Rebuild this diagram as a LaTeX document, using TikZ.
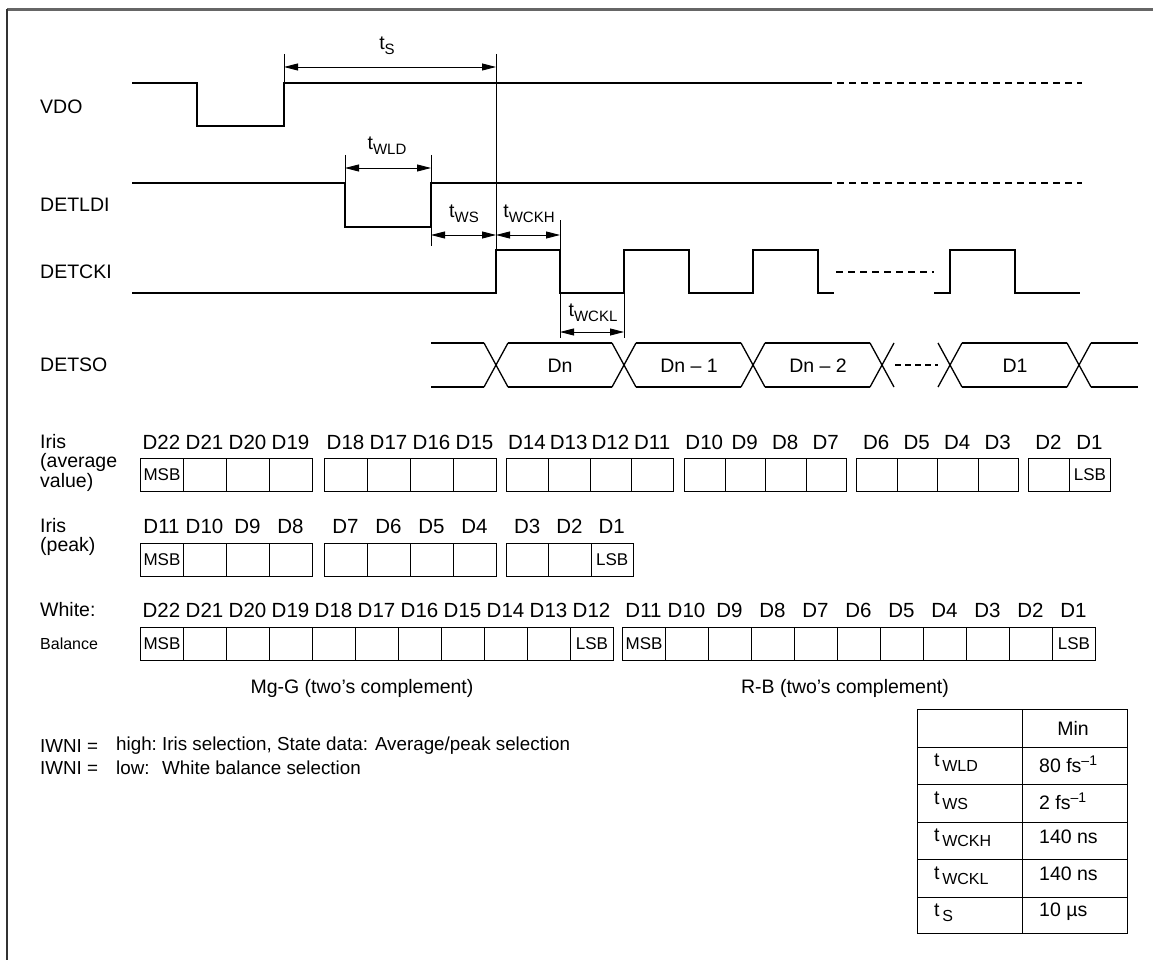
\documentclass[tikz,border=0pt]{standalone}
\usepackage{fontspec}
\setmainfont{Liberation Sans}
\usetikzlibrary{arrows.meta}
\newcommand\tsubx[2][15]{t\raisebox{-5pt}{\fontsize{#1}{#1}\selectfont #2}}
\begin{document}
\begin{tikzpicture}[x=1pt,y=-1pt,
  font=\fontsize{19.5}{22}\selectfont,
  sig/.style={line width=1.3pt, line join=miter, line cap=butt},
  dsig/.style={line width=1.3pt, dash pattern=on 7pt off 5pt},
  dimarr/.style={line width=0.9pt, {Triangle[length=14pt,width=7pt]}-{Triangle[length=14pt,width=7pt]}},
  ext/.style={line width=0.9pt},
  lbl/.style={anchor=west, inner sep=0pt},
  txt/.style={inner sep=0pt},
  dlab/.style={inner sep=0pt, anchor=base, font=\fontsize{20.5}{22}\selectfont},
  cell/.style={draw, line width=1pt, minimum height=33pt, inner sep=0pt, anchor=north west},
  small/.style={inner sep=0pt, font=\fontsize{17}{17}\selectfont},
  note/.style={anchor=west, inner sep=0pt, font=\fontsize{18.8}{21}\selectfont},
  tab/.style={line width=1pt}]
\useasboundingbox (0,0) rectangle (1153,960);
% frame
\draw[line width=3pt, color=black!60] (7,10) -- (1153,10);
\draw[line width=2pt, color=black!80] (7,9) -- (7,960);

% signal names
\node[lbl] (nVDO) at (40,107) {VDO};
\node[lbl] (nLDI) at (40,205) {DETLDI};
\node[lbl] (nCKI) at (40,272) {DETCKI};
\node[lbl] (nSO) at (40,365) {DETSO};

% VDO
\draw[sig] (132,83) -- (197,83) -- (197,126) -- (284,126) -- (284,83) -- (825,83);
\draw[dsig] (825,83) -- (1082,83);
% DETLDI
\draw[sig] (132,183) -- (345,183) -- (345,227) -- (431,227) -- (431,183) -- (825,183);
\draw[dsig] (825,183) -- (1082,183);
% DETCKI
\draw[sig] (132,293) -- (496,293) -- (496,250) -- (560,250) -- (560,293) -- (624,293) -- (624,250) -- (689,250) -- (689,293) -- (753,293) -- (753,250) -- (818,250) -- (818,293) -- (834,293);
\draw[line width=1.2pt, dash pattern=on 7pt off 5pt] (836,272) -- (934,272);
\draw[sig] (934,293) -- (950,293) -- (950,250) -- (1015,250) -- (1015,293) -- (1080,293);

% reference vertical line
\draw[ext] (496,54) -- (496,250);

% t_S
\draw[ext] (284,54) -- (284,83);
\coordinate (tsA) at (284,67);
\coordinate (tsB) at (496,67);
\draw[dimarr] (tsA) -- (tsB);
\node[txt] (ltS) at (387,46) {\tsubx{S}};
% t_WLD
\draw[ext] (345,155) -- (345,183);
\draw[ext] (431,155) -- (431,246);
\coordinate (wlA) at (345,168);
\coordinate (wlB) at (431,168);
\draw[dimarr] (wlA) -- (wlB);
\node[txt] (ltWLD) at (387,146) {\tsubx{WLD}};
% t_WS
\coordinate (wsA) at (431,235);
\coordinate (wsB) at (496,235);
\draw[dimarr] (wsA) -- (wsB);
\node[txt] (ltWS) at (464,214) {\tsubx{WS}};
% t_WCKH
\draw[ext] (560,220) -- (560,250);
\coordinate (whA) at (496,235);
\coordinate (whB) at (560,235);
\draw[dimarr] (whA) -- (whB);
\node[txt] (ltWCKH) at (529,214) {\tsubx{WCKH}};
% t_WCKL
\draw[ext] (560,293) -- (560,338);
\draw[ext] (624,293) -- (624,338);
\coordinate (wkA) at (560,332);
\coordinate (wkB) at (624,332);
\draw[dimarr] (wkA) -- (wkB);
\node[txt] (ltWCKL) at (593,313) {\tsubx{WCKL}};

% DETSO bus
\def\h{12}
\draw[sig] (431,343) -- (484,343);
\draw[sig] (431,387) -- (484,387);
\foreach \c in {496,624,753,882,950,1079}{
  \draw[sig] (\c-\h,343) -- (\c+\h,387);
  \draw[sig] (\c-\h,387) -- (\c+\h,343);
}
\foreach \a/\b in {496/624,624/753,753/882,950/1079}{
  \draw[sig] (\a+\h,343) -- (\b-\h,343);
  \draw[sig] (\a+\h,387) -- (\b-\h,387);
}
\draw[sig] (1091,343) -- (1138,343);
\draw[sig] (1091,387) -- (1138,387);
\draw[line width=1.2pt, dash pattern=on 6pt off 4pt] (895,365) -- (938,365);
\node[txt] (bDn) at (560,366) {Dn};
\node[txt] (bDn1) at (689,366) {Dn -- 1};
\node[txt] (bDn2) at (818,366) {Dn -- 2};
\node[txt] (bD1) at (1015,366) {D1};

% ---- bit rows ----
\node[lbl] (rIris) at (40,442) {Iris};
\node[lbl] (rAvg) at (40,462) {(average};
\node[lbl] (rVal) at (40,482) {value)};
\foreach \s/\n/\f/\w in {140/4/22/43,324/4/18/43,506/4/14/41.75,684/4/10/40.5,856/4/6/40.5,1028/2/2/41}{
  \foreach \i in {1,...,\n}{
    \pgfmathsetmacro\xx{\s+(\i-1)*\w}
    \pgfmathtruncatemacro\bb{\f-\i+1}
    \node[cell, minimum width=\w pt] (a\bb) at (\xx,458) {};
    \node[dlab] (al\bb) at (\xx+\w/2,449.5) {D\bb};
  }
}
\node[small] at (a22) {MSB};
\node[small] at (a1) {LSB};

\node[lbl] (rIris2) at (40,526) {Iris};
\node[lbl] (rPeak) at (40,546) {(peak)};
\foreach \s/\n/\f/\w in {140/4/11/43,324/4/7/43,506/3/3/42.3}{
  \foreach \i in {1,...,\n}{
    \pgfmathsetmacro\xx{\s+(\i-1)*\w}
    \pgfmathtruncatemacro\bb{\f-\i+1}
    \node[cell, minimum width=\w pt] (p\bb) at (\xx,543) {};
    \node[dlab] (pl\bb) at (\xx+\w/2,533.5) {D\bb};
  }
}
\node[small] at (p11) {MSB};
\node[small] at (p1) {LSB};

\node[lbl] (rWhite) at (40,610) {White:};
\node[lbl, font=\fontsize{16}{16}\selectfont] (rBal) at (40,644) {Balance};
\foreach \i in {1,...,11}{
  \pgfmathsetmacro\xx{140+(\i-1)*43}
  \pgfmathtruncatemacro\bb{23-\i}
  \node[cell, minimum width=43pt] (w\bb) at (\xx,627) {};
  \node[dlab] (wl\bb) at (\xx+21.5,617.5) {D\bb};
}
\foreach \i in {1,...,11}{
  \pgfmathsetmacro\xx{622+(\i-1)*43}
  \pgfmathtruncatemacro\bb{12-\i}
  \node[cell, minimum width=43pt] (v\bb) at (\xx,627) {};
  \node[dlab] (vl\bb) at (\xx+21.5,617.5) {D\bb};
}
\node[small] at (w22) {MSB};
\node[small] at (w12) {LSB};
\node[small] at (v11) {MSB};
\node[small] at (v1) {LSB};
\node[txt] (mgg) at (362,688) {Mg-G (two’s complement)};
\node[txt] (rb) at (845,688) {R-B (two’s complement)};

% notes
\node[note] (n1a) at (40,746) {IWNI =};
\node[note] (n1b) at (116,746) {high:};
\node[note] (n1c) at (162,746) {Iris selection, State data: Average/peak selection};
\node[note] (n2a) at (40,768) {IWNI =};
\node[note] (n2b) at (116,768) {low:};
\node[note] (n2c) at (162,768) {White balance selection};

% table
\draw[tab] (917,709) rectangle (1127,933);
\foreach \yy in {747,784,822,859,897}{\draw[tab] (917,\yy) -- (1127,\yy);}
\draw[tab] (1022,709) -- (1022,933);
\node[txt] (tmin) at (1073,728) {Min};
\node[lbl] (t1) at (934,763) {\tsubx[16]{\,WLD}};
\node[lbl] (t2) at (934,801) {\tsubx[16]{\,WS}};
\node[lbl] (t3) at (934,838) {\tsubx[16]{\,WCKH}};
\node[lbl] (t4) at (934,876) {\tsubx[16]{\,WCKL}};
\node[lbl] (t5) at (934,913) {\tsubx[16]{\,S}};
\node[lbl] (v1t) at (1039,764) {80 fs\raisebox{7pt}{\fontsize{14}{14}\selectfont --1}};
\node[lbl] (v2t) at (1039,801) {2 fs\raisebox{7pt}{\fontsize{14}{14}\selectfont --1}};
\node[lbl] (v3t) at (1039,837) {140 ns};
\node[lbl] (v4t) at (1039,874) {140 ns};
\node[lbl] (v5t) at (1039,912) {10 µs};
\end{tikzpicture}
\end{document}
